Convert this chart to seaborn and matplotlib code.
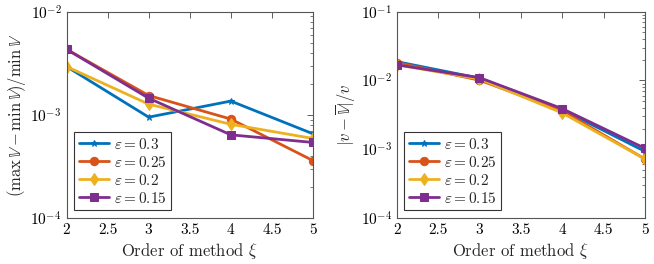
import numpy as np
import pandas as pd
import matplotlib
matplotlib.use("Agg")
import matplotlib.pyplot as plt
import seaborn as sns
from matplotlib.ticker import LogLocator, NullFormatter

orders = [2, 3, 4, 5]
labels = [r"$\varepsilon = 0.3$", r"$\varepsilon = 0.25$", r"$\varepsilon = 0.2$", r"$\varepsilon = 0.15$"]
left_03 = [2.94e-3, 9.5e-4, 1.36e-3, 6.55e-4]
left_025 = [4.32e-3, 1.54e-3, 9.1e-4, 3.6e-4]
left_02 = [2.94e-3, 1.27e-3, 8.1e-4, 5.9e-4]
left_015 = [4.32e-3, 1.45e-3, 6.4e-4, 5.4e-4]
right_03 = [1.88e-2, 1.08e-2, 3.76e-3, 9.3e-4]
right_025 = [1.82e-2, 1.01e-2, 3.63e-3, 7.2e-4]
right_02 = [1.69e-2, 1.05e-2, 3.37e-3, 7.2e-4]
right_015 = [1.69e-2, 1.10e-2, 3.89e-3, 1.03e-3]

colors = ["#0072BD", "#D95319", "#EDB120", "#7E2F8E"]
markers = ["*", "o", "d", "s"]
msizes = [5, 6, 6, 6]

sns.set_theme(style="white")
plt.rcParams["font.family"] = ["cmr10", "DejaVu Serif"]
plt.rcParams["mathtext.fontset"] = "cm"
plt.rcParams["axes.formatter.use_mathtext"] = True

fig = plt.figure(figsize=(6.54, 2.64), dpi=100)
ax1 = fig.add_axes([66.5/654, 1 - 218/264, (313 - 66.5)/654, (218 - 11.7)/264])
ax2 = fig.add_axes([396.7/654, 1 - 218/264, (645 - 396.7)/654, (218 - 11.7)/264])

def draw(ax, series, ylim, ylabel):
    for vals, lab, c, m, ms in zip(series, labels, colors, markers, msizes):
        df = pd.DataFrame({"x": orders, "y": vals})
        sns.lineplot(data=df, x="x", y="y", ax=ax, color=c, marker=m, markersize=ms,
                     markeredgecolor=c, linewidth=2, label=lab)
    ax.set_yscale("log")
    ax.set_xlim(2, 5)
    ax.set_ylim(*ylim)
    ax.set_xticks([2, 2.5, 3, 3.5, 4, 4.5, 5])
    ax.set_xticklabels(["2", "2.5", "3", "3.5", "4", "4.5", "5"])
    ax.yaxis.set_major_locator(LogLocator(base=10, numticks=10))
    ax.yaxis.set_minor_locator(LogLocator(base=10, subs=np.arange(2, 10), numticks=20))
    ax.yaxis.set_minor_formatter(NullFormatter())
    ax.tick_params(axis="both", which="both", direction="in", colors="#444444",
                   labelcolor="black", labelsize=11, top=True, right=True)
    ax.tick_params(which="major", length=4, width=0.6)
    ax.tick_params(which="minor", length=2.5, width=0.5)
    ax.tick_params(axis="x", which="minor", bottom=False, top=False)
    for s in ax.spines.values():
        s.set_color("#555555")
        s.set_linewidth(0.8)
    ax.set_xlabel(r"Order of method $\xi$", fontsize=12, labelpad=3)
    ax.set_ylabel(ylabel, fontsize=12, labelpad=2)
    leg = ax.legend(loc="lower left", fontsize=11, frameon=True, fancybox=False,
                    borderpad=0.3, labelspacing=0.2, handlelength=2.0, handletextpad=0.3,
                    borderaxespad=0.5)
    leg.get_frame().set_edgecolor("black")
    leg.get_frame().set_linewidth(0.8)

draw(ax1, [left_03, left_025, left_02, left_015], (1e-4, 1e-2),
     r"$(\max\,\mathbb{V}-\min\,\mathbb{V})/\min\,\mathbb{V}$")
draw(ax2, [right_03, right_025, right_02, right_015], (1e-4, 1e-1),
     r"$|v-\overline{\mathbb{V}}|/v$")

fig.savefig("out.png", dpi=100)
